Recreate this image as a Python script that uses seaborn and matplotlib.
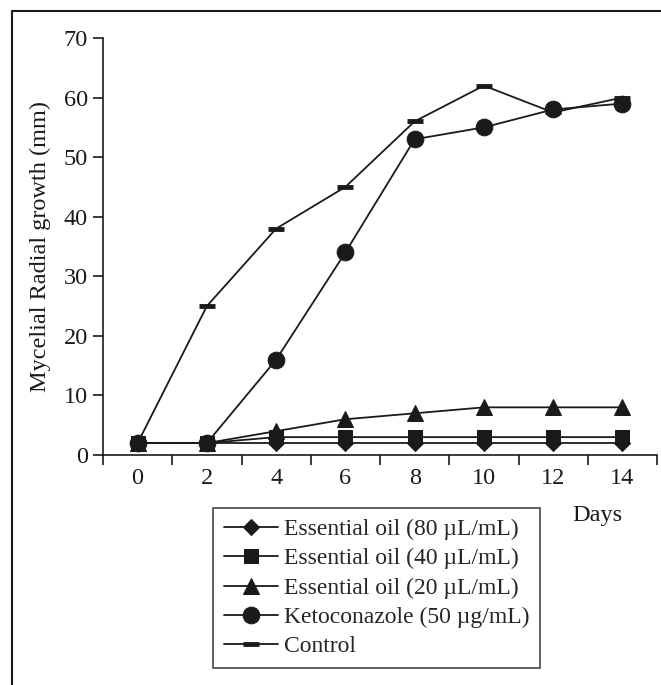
import numpy as np
import pandas as pd
import matplotlib
matplotlib.use("Agg")
import matplotlib.pyplot as plt
from matplotlib.lines import Line2D
from matplotlib.ticker import MultipleLocator, FixedLocator
import seaborn as sns

days = [0, 2, 4, 6, 8, 10, 12, 14]
eo_80 = [2, 2, 2, 2, 2, 2, 2, 2]
eo_40 = [2, 2, 3, 3, 3, 3, 3, 3]
eo_20 = [2, 2, 4, 6, 7, 8, 8, 8]
keto = [2, 2, 16, 34, 53, 55, 58, 59]
control = [2, 25, 38, 45, 56, 62, 57.5, 60]

labels = ["Essential oil (80 \u00b5L/mL)", "Essential oil (40 \u00b5L/mL)",
          "Essential oil (20 \u00b5L/mL)", "Ketoconazole (50 \u00b5g/mL)", "Control"]
series = [eo_80, eo_40, eo_20, keto, control]

data = pd.DataFrame({
    "Days": days * len(series),
    "Growth": sum(series, []),
    "Treatment": np.repeat(labels, len(days)),
})

sns.set_theme(style="white")
plt.rcParams["font.family"] = ["Liberation Serif", "DejaVu Serif"]

FS = 17.5
INK = "#1a1a1a"

fig = plt.figure(figsize=(6.61, 6.85), dpi=100)
ax = fig.add_axes([103 / 661, 1 - 455 / 685, 554 / 661, 417 / 685])

styles = {
    labels[0]: dict(marker="D", markersize=8.5),
    labels[1]: dict(marker="s", markersize=10),
    labels[2]: dict(marker="^", markersize=11),
    labels[3]: dict(marker="o", markersize=12),
    labels[4]: dict(marker="_", markersize=12, markeredgewidth=3.5),
}
for name in labels:
    sns.lineplot(data=data[data["Treatment"] == name], x="Days", y="Growth",
                 color=INK, linewidth=1.3, markeredgecolor=INK,
                 label=name, ax=ax, **styles[name])

ax.set_xlim(-1, 15)
ax.set_ylim(0, 70)
ax.xaxis.set_major_locator(FixedLocator(days))
ax.xaxis.set_minor_locator(FixedLocator(list(range(-1, 16, 2))))
ax.yaxis.set_major_locator(MultipleLocator(10))
ax.tick_params(axis="x", which="major", length=0, pad=9, labelsize=FS, colors=INK)
ax.tick_params(axis="x", which="minor", length=7, width=1.2, direction="out",
               color=INK, bottom=True)
ax.tick_params(axis="y", which="major", length=7, width=1.2, direction="out", pad=4,
               labelsize=FS, colors=INK, left=True)

for side in ["top", "right"]:
    ax.spines[side].set_visible(False)
for side in ["left", "bottom"]:
    ax.spines[side].set_color(INK)
    ax.spines[side].set_linewidth(1.2)

ax.set_xlabel("")
ax.set_ylabel("Mycelial Radial growth (mm)", fontsize=FS, color=INK)
ax.yaxis.set_label_coords(-0.093, 0.5)

fig.text(597 / 661, 1 - 515 / 685, "Days", ha="center", va="center",
         fontsize=FS, color=INK)

leg = ax.legend(loc="upper left", bbox_to_anchor=(213 / 661, 1 - 508 / 685),
                bbox_transform=fig.transFigure, fontsize=17, frameon=True,
                fancybox=False, edgecolor=INK, handlelength=2.3,
                handletextpad=0.25, labelspacing=0.33, borderpad=0.45,
                borderaxespad=0)
leg.get_frame().set_linewidth(1.2)

# outer frame of the figure panel
fig.add_artist(Line2D([12 / 661, 12 / 661], [0, 1 - 11 / 685], color=INK,
                      linewidth=1.5, transform=fig.transFigure))
fig.add_artist(Line2D([12 / 661, 1], [1 - 11 / 685, 1 - 11 / 685], color=INK,
                      linewidth=1.5, transform=fig.transFigure))

fig.savefig("out.png", dpi=100)
